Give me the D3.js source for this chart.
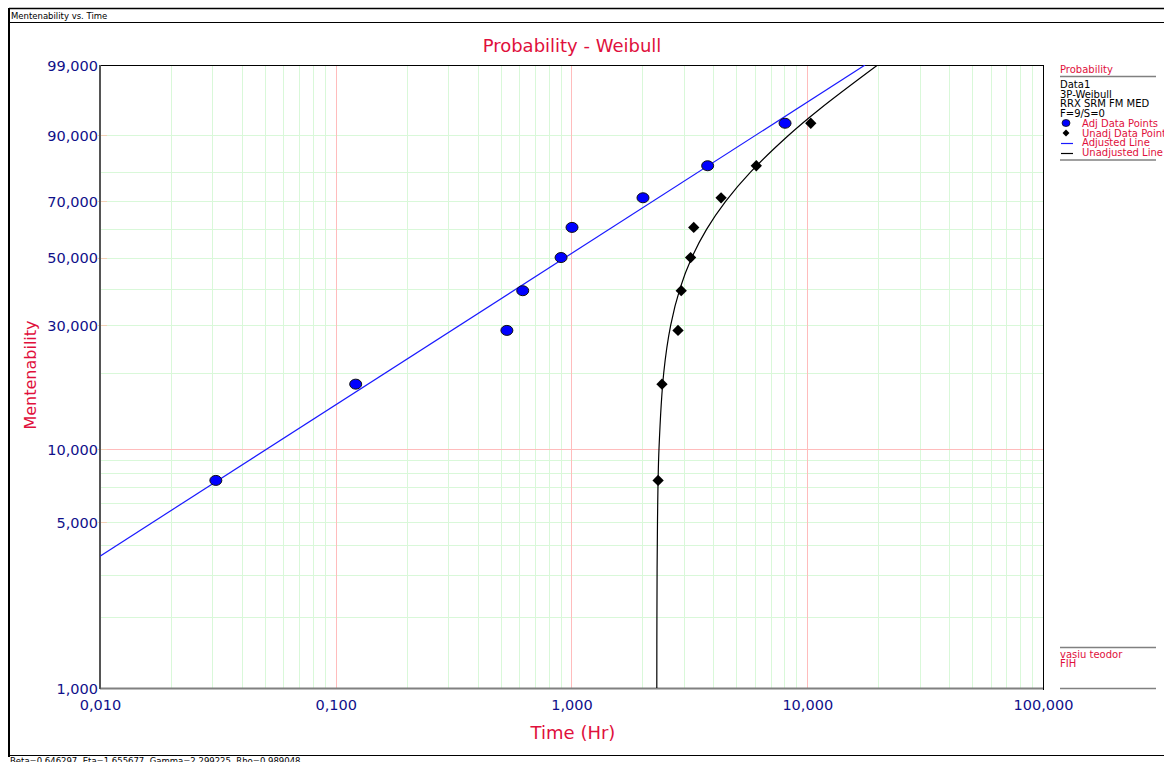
<!DOCTYPE html>
<html>
<head>
<meta charset="utf-8">
<script src="https://cdn.jsdelivr.net/npm/d3@7"></script>
<style>
  body { margin: 0; background: #fff; }
  text { font-family: "DejaVu Sans", Verdana, sans-serif; }
</style>
</head>
<body>
<script>

// Data: time (Hr) and mentenability (%)
var adjTime   = [0.031, 0.1215, 0.532, 0.621, 0.903, 1.005, 2.01, 3.78, 8.05];
var unadjTime = [2.33, 2.42, 2.83, 2.92, 3.20, 3.30, 4.31, 6.08, 10.35];
var rankPct   = [7.45, 18.09, 28.72, 39.36, 50.0, 60.64, 71.28, 81.91, 92.55];

// adjusted line (straight on weibull paper) - two end points
var adjLineTime = [0.01, 17.59];
var adjLinePct  = [3.61, 99];

// unadjusted line (3P curve) - points along it
var unadjLineTime = [2.3006, 2.3032, 2.3159, 2.3501, 2.4618, 2.6351, 2.8849, 3.2383, 3.7454, 4.5058, 5.7568, 8.3171, 11.3415, 19.885];
var unadjLinePct  = [1, 2, 5, 10, 20, 30, 40, 50, 60, 70, 80, 90, 95, 99];

// ticks and grid
var xTicks = [0.01, 0.1, 1, 10, 100];
var xMajorGrid = [0.1, 1, 10];
var yTicks = [1, 5, 10, 30, 50, 70, 90, 99];
var yGrid = [2, 3, 4, 5, 6, 7, 8, 9, 20, 30, 40, 50, 60, 70, 80, 90];
var yMajorGrid = [10];

var legendInfo = ["Data1", "3P-Weibull", "RRX SRM FM MED", "F=9/S=0"];
var footerText = "Beta=0.646297, Eta=1.655677, Gamma=2.299225, Rho=0.989048";

var svgWidth = 1164;
var svgHeight = 762;

var plot = { left: 100, right: 1043, top: 65, bottom: 688 };

var svg = d3.select('body')
  .append('svg')
  .attr('width', svgWidth)
  .attr('height', svgHeight);

// comma as decimal separator like the original
var locale = d3.formatLocale({ decimal: ",", thousands: ".", grouping: [3], currency: ["", ""] });
var fmt = locale.format(".3f");

// weibull probability transform
function weib(p) {
  return Math.log(-Math.log(1 - p / 100));
}

var xScale = d3.scaleLog()
  .domain([0.01, 100])
  .range([plot.left, plot.right]);

var yScale = d3.scaleLinear()
  .domain([weib(1), weib(99)])
  .range([plot.bottom, plot.top]);

// ---- window frame ----
svg.append('line').attr('x1', 9).attr('x2', svgWidth).attr('y1', 8.5).attr('y2', 8.5)
  .attr('stroke', '#000').attr('stroke-width', 1.5);
svg.append('line').attr('x1', 9).attr('x2', svgWidth).attr('y1', 22.5).attr('y2', 22.5)
  .attr('stroke', '#000').attr('stroke-width', 1);
svg.append('line').attr('x1', 9).attr('x2', 9).attr('y1', 8).attr('y2', 757)
  .attr('stroke', '#000').attr('stroke-width', 2);
svg.append('line').attr('x1', 9).attr('x2', svgWidth).attr('y1', 755.5).attr('y2', 755.5)
  .attr('stroke', '#000').attr('stroke-width', 1);

svg.append('text')
  .attr('x', 11).attr('y', 19)
  .attr('font-size', 8.5)
  .attr('fill', '#000')
  .text('Mentenability vs. Time');

// footer is cut by the bottom edge, like in the original
svg.append('text')
  .attr('x', 10).attr('y', 764)
  .attr('font-size', 8.5)
  .attr('fill', '#000')
  .text(footerText);

// ---- grid ----
var grid = svg.append('g');

grid.selectAll('.xminor')
  .data(xScale.ticks().filter(d => xMajorGrid.indexOf(d) < 0 && xTicks.indexOf(d) < 0))
  .enter()
  .append('line')
  .attr('x1', d => Math.round(xScale(d)) + 0.5)
  .attr('x2', d => Math.round(xScale(d)) + 0.5)
  .attr('y1', plot.top)
  .attr('y2', plot.bottom)
  .attr('stroke', '#d9f8d9');

grid.selectAll('.yminor')
  .data(yGrid)
  .enter()
  .append('line')
  .attr('x1', plot.left)
  .attr('x2', plot.right)
  .attr('y1', d => Math.round(yScale(weib(d))) + 0.5)
  .attr('y2', d => Math.round(yScale(weib(d))) + 0.5)
  .attr('stroke', '#d9f8d9');

grid.selectAll('.xmajor')
  .data(xMajorGrid)
  .enter()
  .append('line')
  .attr('x1', d => Math.round(xScale(d)) + 0.5)
  .attr('x2', d => Math.round(xScale(d)) + 0.5)
  .attr('y1', plot.top)
  .attr('y2', plot.bottom)
  .attr('stroke', '#ffbcbc');

grid.selectAll('.ymajor')
  .data(yMajorGrid)
  .enter()
  .append('line')
  .attr('x1', plot.left)
  .attr('x2', plot.right)
  .attr('y1', d => Math.round(yScale(weib(d))) + 0.5)
  .attr('y2', d => Math.round(yScale(weib(d))) + 0.5)
  .attr('stroke', '#ffbcbc');

// ---- axes ----
var bottomAxis = d3.axisBottom(xScale)
  .tickValues(xTicks)
  .tickFormat(fmt)
  .tickSize(0)
  .tickPadding(12);

var leftAxis = d3.axisLeft(yScale)
  .tickValues(yTicks.map(weib))
  .tickFormat(d => fmt(100 * (1 - Math.exp(-Math.exp(d)))))
  .tickSize(0)
  .tickPadding(2);

var xAxisG = svg.append('g')
  .attr('transform', `translate(0, ${plot.bottom})`)
  .call(bottomAxis);

var yAxisG = svg.append('g')
  .attr('transform', `translate(${plot.left}, 0)`)
  .call(leftAxis);

[xAxisG, yAxisG].forEach(function(g) {
  g.select('.domain').remove();
  g.selectAll('text')
    .attr('fill', '#10108a')
    .attr('font-size', 14.5)
    .attr('font-family', '"DejaVu Sans", Verdana, sans-serif');
});
yAxisG.selectAll('text').attr('dy', '0.36em');

// little orange ticks on the left axis
svg.selectAll('.ytick')
  .data(yTicks.slice(1, -1))
  .enter()
  .append('line')
  .attr('x1', plot.left - 3)
  .attr('x2', plot.left + 7)
  .attr('y1', d => Math.round(yScale(weib(d))) + 0.5)
  .attr('y2', d => Math.round(yScale(weib(d))) + 0.5)
  .attr('stroke', '#f4d2b8');

// plot box
svg.append('line').attr('x1', plot.left).attr('x2', plot.right).attr('y1', plot.top + 0.5).attr('y2', plot.top + 0.5)
  .attr('stroke', '#000');
svg.append('line').attr('x1', plot.right + 0.5).attr('x2', plot.right + 0.5).attr('y1', plot.top).attr('y2', plot.bottom + 2)
  .attr('stroke', '#000');
svg.append('line').attr('x1', plot.left).attr('x2', plot.right).attr('y1', plot.bottom + 0.5).attr('y2', plot.bottom + 0.5)
  .attr('stroke', '#808080').attr('stroke-width', 2);
svg.append('line').attr('x1', plot.left).attr('x2', plot.left).attr('y1', plot.top).attr('y2', plot.bottom + 1)
  .attr('stroke', '#555').attr('stroke-width', 2);

// ---- titles ----
svg.append('text')
  .attr('x', 572).attr('y', 52)
  .attr('text-anchor', 'middle')
  .attr('font-size', 18)
  .attr('fill', '#e0103c')
  .text('Probability - Weibull');

svg.append('text')
  .attr('x', 573).attr('y', 739)
  .attr('text-anchor', 'middle')
  .attr('font-size', 18)
  .attr('fill', '#e0103c')
  .text('Time (Hr)');

svg.append('text')
  .attr('transform', 'translate(36, 375) rotate(-90)')
  .attr('text-anchor', 'middle')
  .attr('font-size', 16)
  .attr('fill', '#e0103c')
  .text('Mentenability');

// ---- lines ----
svg.append('clipPath').attr('id', 'clip')
  .append('rect')
  .attr('x', plot.left).attr('y', plot.top)
  .attr('width', plot.right - plot.left).attr('height', plot.bottom - plot.top);

var lineGen = d3.line()
  .x(d => xScale(d[0]))
  .y(d => yScale(weib(d[1])));

svg.append('path')
  .datum(d3.zip(adjLineTime, adjLinePct))
  .attr('clip-path', 'url(#clip)')
  .attr('d', lineGen)
  .attr('fill', 'none')
  .attr('stroke', '#1a1aff')
  .attr('stroke-width', 1.2);

svg.append('path')
  .datum(d3.zip(unadjLineTime, unadjLinePct))
  .attr('clip-path', 'url(#clip)')
  .attr('d', lineGen.curve(d3.curveCatmullRom))
  .attr('fill', 'none')
  .attr('stroke', '#000')
  .attr('stroke-width', 1.2);

// ---- points ----
svg.selectAll('.adj')
  .data(d3.zip(adjTime, rankPct))
  .enter()
  .append('ellipse')
  .attr('cx', d => xScale(d[0]))
  .attr('cy', d => yScale(weib(d[1])))
  .attr('rx', 6)
  .attr('ry', 5)
  .attr('fill', '#0000ff')
  .attr('stroke', '#111')
  .attr('stroke-width', 1);

svg.selectAll('.unadj')
  .data(d3.zip(unadjTime, rankPct))
  .enter()
  .append('path')
  .attr('d', d3.symbol(d3.symbolSquare, 64))
  .attr('transform', d => `translate(${xScale(d[0])}, ${yScale(weib(d[1]))}) rotate(45)`)
  .attr('fill', '#000');

// ---- legend ----
var lg = svg.append('g').attr('font-size', 10);

lg.append('text').attr('x', 1060).attr('y', 73).attr('fill', '#e0103c').text('Probability');
lg.append('line').attr('x1', 1060).attr('x2', 1156).attr('y1', 76.5).attr('y2', 76.5)
  .attr('stroke', '#808080').attr('stroke-width', 1.5);

lg.selectAll('.info')
  .data(legendInfo)
  .enter()
  .append('text')
  .attr('x', 1060)
  .attr('y', (d, i) => 88 + i * 9.7)
  .attr('fill', '#000')
  .text(d => d);

var legendItems = ["Adj Data Points", "Unadj Data Points", "Adjusted Line", "Unadjusted Line"];
lg.selectAll('.item')
  .data(legendItems)
  .enter()
  .append('text')
  .attr('x', 1082)
  .attr('y', (d, i) => 126.8 + i * 9.7)
  .attr('fill', '#e0103c')
  .text(d => d);

lg.append('ellipse').attr('cx', 1066).attr('cy', 123).attr('rx', 4).attr('ry', 3.5)
  .attr('fill', '#0000ff').attr('stroke', '#111').attr('stroke-width', 0.8);
lg.append('path').attr('d', d3.symbol(d3.symbolSquare, 24))
  .attr('transform', 'translate(1066, 133) rotate(45)').attr('fill', '#000');
lg.append('line').attr('x1', 1061).attr('x2', 1073).attr('y1', 143.5).attr('y2', 143.5)
  .attr('stroke', '#1a1aff').attr('stroke-width', 1.2);
lg.append('line').attr('x1', 1061).attr('x2', 1073).attr('y1', 153.5).attr('y2', 153.5)
  .attr('stroke', '#000').attr('stroke-width', 1.2);
lg.append('line').attr('x1', 1060).attr('x2', 1156).attr('y1', 160).attr('y2', 160)
  .attr('stroke', '#808080').attr('stroke-width', 1.5);

lg.append('line').attr('x1', 1060).attr('x2', 1156).attr('y1', 647.5).attr('y2', 647.5)
  .attr('stroke', '#808080').attr('stroke-width', 1.5);
lg.append('text').attr('x', 1060).attr('y', 658).attr('fill', '#e0103c').text('vasiu teodor');
lg.append('text').attr('x', 1060).attr('y', 667).attr('fill', '#e0103c').text('FIH');
lg.append('line').attr('x1', 1060).attr('x2', 1156).attr('y1', 688.5).attr('y2', 688.5)
  .attr('stroke', '#808080').attr('stroke-width', 1.5);

</script>
</body>
</html>
